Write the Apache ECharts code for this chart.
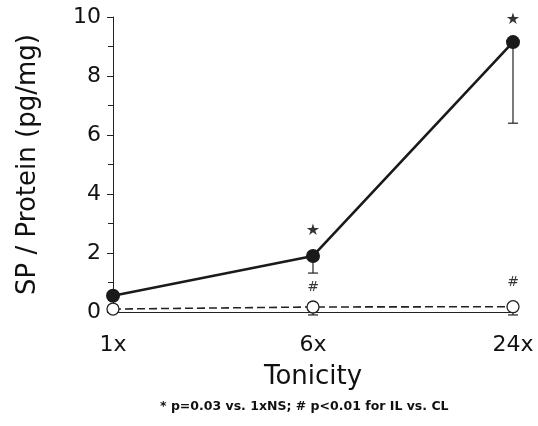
<!DOCTYPE html>
<html>
<head>
<meta charset="utf-8">
<script src="https://cdn.jsdelivr.net/npm/echarts@6/dist/echarts.min.js"></script>
<style>
  html, body { margin: 0; padding: 0; background: #fff; }
  #chart { width: 538px; height: 426px; }
</style>
</head>
<body>
<div id="chart"></div>
<script>
const categories = ['1x', '6x', '24x'];
// filled circles (IL) and open circles (CL)
const ilValues = [0.55, 1.9, 9.15];
const ilLower = [0.55, 1.32, 6.4];
const clValues = [0.1, 0.17, 0.18];
const clLower = [0.1, -0.1, -0.1];
// significance marks
const starMarks = [['6x', 2.75, '★'], ['24x', 9.9, '★']];
const hashMarks = [['6x', 0.85, '#'], ['24x', 1.0, '#']];
const yTicks = [0, 2, 4, 6, 8, 10];

const font = 'DejaVu Sans, sans-serif';
const chart = echarts.init(document.getElementById('chart'));

function errorBar(lower, vals) {
  return {
    type: 'custom',
    z: 1,
    clip: false,
    data: vals.map((v, i) => [i, v, lower[i]]),
    renderItem(params, api) {
      const top = api.coord([api.value(0), api.value(1)]);
      const bot = api.coord([api.value(0), api.value(2)]);
      if (Math.abs(top[1] - bot[1]) < 1) return null;
      return {
        type: 'group',
        children: [
          { type: 'line', shape: { x1: top[0], y1: top[1], x2: bot[0], y2: bot[1] }, style: { stroke: '#222', lineWidth: 1.2 } },
          { type: 'line', shape: { x1: bot[0] - 5, y1: bot[1], x2: bot[0] + 5, y2: bot[1] }, style: { stroke: '#222', lineWidth: 1.2 } }
        ]
      };
    }
  };
}

function marks(list, size) {
  return {
    type: 'scatter',
    symbol: 'circle',
    symbolSize: 1,
    itemStyle: { color: 'rgba(0,0,0,0)' },
    z: 5,
    silent: true,
    data: list.map(m => ({ value: [m[0], m[1]], name: m[2] })),
    label: {
      show: true,
      position: 'inside',
      formatter: p => p.name,
      color: '#000',
      fontFamily: font,
      fontSize: size
    }
  };
}

chart.setOption({
  animation: false,
  backgroundColor: '#fff',
  grid: { left: 113, right: 25, top: 17, bottom: 114 },
  xAxis: {
    type: 'category',
    data: categories,
    boundaryGap: false,
    name: 'Tonicity',
    nameLocation: 'middle',
    nameGap: 52,
    nameTextStyle: { fontFamily: font, fontSize: 26, color: '#111' },
    axisLine: { lineStyle: { color: '#222', width: 1 } },
    axisTick: { show: false },
    axisLabel: { fontFamily: font, fontSize: 22, color: '#111', margin: 22 }
  },
  yAxis: {
    type: 'value',
    min: 0,
    max: 10,
    interval: 2,
    name: 'SP / Protein (pg/mg)',
    nameLocation: 'middle',
    nameGap: 72,
    nameTextStyle: { fontFamily: font, fontSize: 26, color: '#111' },
    axisLine: { show: true, lineStyle: { color: '#222', width: 1 } },
    axisTick: { show: true, length: 6, lineStyle: { color: '#222' } },
    minorTick: { show: true, splitNumber: 2, length: 5, lineStyle: { color: '#222' } },
    splitLine: { show: false },
    axisLabel: {
      fontFamily: font, fontSize: 22, color: '#111', margin: 12,
      formatter: v => yTicks.includes(v) ? String(v) : ''
    }
  },
  series: [
    errorBar(ilLower, ilValues),
    errorBar(clLower, clValues),
    {
      type: 'line',
      data: clValues,
      z: 3,
      symbol: 'circle',
      symbolSize: 12,
      lineStyle: { color: '#222', width: 1.6, type: [8, 4] },
      itemStyle: { color: '#fff', borderColor: '#222', borderWidth: 1.3 }
    },
    {
      type: 'line',
      data: ilValues,
      z: 4,
      symbol: 'circle',
      symbolSize: 14,
      lineStyle: { color: '#1a1a1a', width: 2.6 },
      itemStyle: { color: '#1a1a1a' }
    },
    marks(starMarks, 16),
    marks(hashMarks, 14)
  ],
  graphic: [{
    type: 'text',
    left: 160,
    top: 400,
    style: {
      text: '* p=0.03 vs. 1xNS; # p<0.01 for IL vs. CL',
      fontFamily: font,
      fontSize: 12.5,
      fontWeight: 'bold',
      fill: '#111'
    }
  }]
});
</script>
</body>
</html>
